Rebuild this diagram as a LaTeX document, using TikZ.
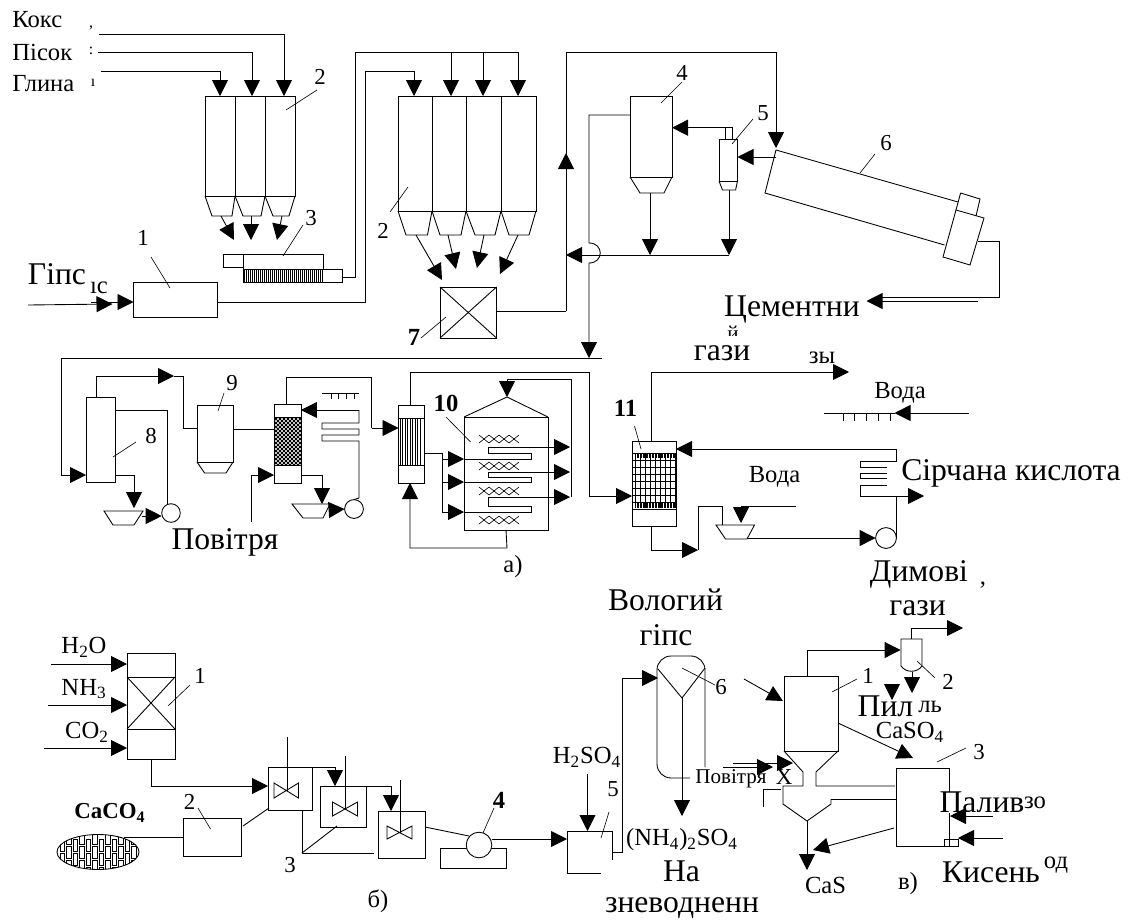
\documentclass[tikz,border=0pt]{standalone}
\usepackage{fontspec}
\setmainfont{Liberation Serif}
\usetikzlibrary{arrows.meta,fit,shapes.geometric}
\tikzset{
    unit/.style={draw, rectangle, inner sep=0pt, outer sep=0pt},
    pump/.style={draw, circle, fill=white, inner sep=0pt, outer sep=0pt},
    flow/.style={-{Triangle[length=0.32cm,width=0.32cm]}},
    lead/.style={line width=0.35pt},
    bigtext/.style={font=\fontsize{18}{20}\selectfont, inner sep=0pt},
    midtext/.style={font=\fontsize{14}{16}\selectfont, inner sep=0pt},
    tag/.style={font=\fontsize{13}{15}\selectfont, inner sep=0pt},
    boldtag/.style={font=\fontsize{14}{16}\selectfont\bfseries, inner sep=0pt}
}
\begin{document}
\begin{tikzpicture}[x=0.02cm, y=-0.02cm, line width=0.5pt]
    \useasboundingbox (0,0) rectangle (1130,920);

    % Raw materials and first bins
    \node[midtext, anchor=west] (coke) at (12,20) {Кокс};
    \node[midtext, anchor=west] (sand) at (12,52) {Пісок};
    \node[midtext, anchor=west] (clay) at (12,84) {Глина};
    \node[font=\fontsize{9}{9}\selectfont, inner sep=0pt] (cokeRest) at (91,28) {,};
    \node[font=\fontsize{9}{9}\selectfont, inner sep=0pt] (sandRest) at (91,51) {:};
    \node[font=\fontsize{9}{9}\selectfont, inner sep=0pt] (clayRest) at (93,83) {ı};
    \foreach \n/\l/\r/\a/\b in {A/205/235/212/232, B/235/265/243/261, C/265/295/273/289} {
        \node[unit, fit={(\l,96)(\r,196)}] (bin\n) {};
        \draw (\l,196) -- (\a,216) -- (\b,216) -- (\r,196);
    }
    \coordinate (cokeIn) at (99,34);
    \coordinate (sandIn) at (98,52);
    \coordinate (clayIn) at (101,71);
    \draw[flow] (cokeIn) -| (284,0 |- binC.north);
    \draw[flow] (sandIn) -| (252,0 |- binB.north);
    \draw[flow] (clayIn) -| (220,0 |- binA.north);
    \draw[flow] (221,216) -- (234,240);
    \draw[flow] (251,216) -- (251,240);
    \draw[flow] (282,216) -- (277,240);

    % Feeder 3
    \node[unit, fit={(223,254)(243,267)}] (feedLeft) {};
    \node[unit, fit={(243,254)(323,269)}] (feedTop) {};
    \node[unit, fit={(243,269)(342,282)}] (feedBot) {};
    \foreach \x in {244,246,...,322} {
        \draw[lead] (\x,270) -- (\x,282);
    }

    % Second bins
    \foreach \n/\l/\r/\a/\b in {D/398/432/406/427.5, E/432/466/440/461, F/466/501/475/495, G/501/536/509/529} {
        \node[unit, fit={(\l,96)(\r,211)}] (bin\n) {};
        \draw (\l,211) -- (\a,235) -- (\b,235) -- (\r,211);
    }
    \draw (feedBot.east |- 0,277) -| (355,52) -- (518,52);
    \draw[flow] (451,52) -- (451,0 |- binE.north);
    \draw[flow] (483,52) -- (483,0 |- binF.north);
    \draw[flow] (518,52) -- (518,0 |- binG.north);
    \draw[flow] (416,235) -- (442,280);
    \draw[flow] (448,235) -- (456,269);
    \draw[flow] (484,235) -- (477,268);
    \draw[flow] (518,235) -- (500,274);

    % Crusher 1
    \node[unit, fit={(133.5,282)(217,317)}] (crusher) {};
    \node[bigtext] (gypsum) at (57,274) {Гіпс};
    \node[midtext] (gypsumRest) at (99,288) {ıс};
    \coordinate (gypsumIn) at (28,305);
    \coordinate (gypsumTip) at (112.5,304);
    \coordinate (gypsumMid) at (91,302);
    \draw[flow] (gypsumIn) -- (gypsumTip);
    \draw[flow] (gypsumMid) -- (133.5,0 |- gypsumMid);
    \draw[flow] (crusher.east |- 0,302) -| (365,71) -| (414,0 |- binD.north);

    % Mixer 7
    \node[unit, fit={(440,287)(496.5,338)}] (mixer) {};
    \draw (mixer.north west) -- (mixer.south east);
    \draw (mixer.north east) -- (mixer.south west);
    \draw (mixer.east |- 0,311) -- (566,311);
    \draw[flow] (566,311) -- (566,153);
    \draw[flow] (566,170) |- (776,52) -- (776,148);

    % Cyclones 4 and 5
    \node[unit, fit={(630,96)(672,177)}] (cycloneA) {};
    \draw (630,177) -- (640,193) -- (664,193) -- (672,177);
    \node[unit, fit={(719,139)(737.5,181)}] (cycloneB) {};
    \draw (719,181) -- (722.5,190) -- (735.6,190) -- (737.5,181);
    \draw (725,139) |- (732.6,127.7) -- (732.6,139);
    \draw[flow] (725,127.7) -- (cycloneA.east |- 0,127.7);
    \coordinate (header) at (589,358);
    \draw[flow] (cycloneA.west |- 0,115) -| (589,243) .. controls (604,243) and (604,263) .. (589,263) -- (header);
    \draw[flow] (650,193) -- (650,255);
    \draw[flow] (729,190) -- (729,255);
    \draw[flow] (729,255) -- (566,255);

    % Kiln 6
    \coordinate (kilnHead) at (776,150);
    \draw (kilnHead) -- (958,202);
    \draw (kilnHead) -- (765,193) -- (944.5,245);
    \draw (960.6,193) -- (980,199) -- (976,216);
    \draw (960.6,193) -- (956,210);
    \draw (956,210) -- (984,218) -- (970,265) -- (943,257) -- cycle;
    \draw[flow] (776,157) -- (cycloneB.east |- 0,157);
    \coordinate (cementTip) at (866.5,301);
    \draw (978,241) -| (999,297) -- (880,297);
    \draw[flow] (977.5,301) -- (cementTip);
    \node[bigtext] (cement) at (792,310) {Цементни};
    \node[font=\fontsize{12}{12}\selectfont, inner sep=0pt] (cementRest) at (733,333) {й};

    % Long line to the gas cleaning
    \draw (header) -- (602,358);
    \draw[flow] (header) -| (61,475) -- (86,475);
    \node[bigtext, fill=white, minimum height=35*0.02cm] (gasA) at (722,353) {гази};
    \node[midtext] (gasARest) at (822,358) {зы};

    % Scrubber 8 and cyclone 9
    \node[unit, fit={(86,397)(115,482)}] (scrubber) {};
    \node[unit, fit={(197,405)(233,462)}] (cycloneC) {};
    \draw (197,462) -- (204.6,473) -- (226,473) -- (233,462);
    \draw[flow] (scrubber.north -| 96.5,0) |- (174,376);
    \draw (174,376) -| (183.5,428) -- (cycloneC.west |- 0,428);
    \node[pump, minimum size=18.6*0.02cm] (pumpA) at (171,513) {};
    \draw (scrubber.east |- 0,410) -| (167,0 |- pumpA.north);
    \draw[flow] (scrubber.east |- 0,475) -| (134,508);
    \draw (104,511) -- (143,511) -- (134,525) -- (113,525) -- cycle;
    \draw[flow] (142,516) -- (pumpA.west |- 0,516);

    % Drying tower
    \node[unit, fit={(274,404)(301,483)}] (towerA) {};
    \begin{scope}
        \clip (274,417) rectangle (301,465);
        \foreach \d in {230,234,...,350} {
            \draw[line width=0.5pt] (\d,417) -- (\d+48,465);
            \draw[line width=0.5pt] (\d,465) -- (\d+48,417);
        }
    \end{scope}
    \draw (274,417) rectangle (301,465);
    \draw (cycloneC.east |- 0,429) -- (towerA.west |- 0,429);
    \coordinate (airIn) at (251,522);
    \draw[flow] (airIn) |- (towerA.west |- 0,475);
    \draw[flow] (towerA.east |- 0,475) -| (322,504);
    \draw (292,504) -- (330,504) -- (323,518) -- (303,518) -- cycle;
    \node[pump, minimum size=18.8*0.02cm] (pumpB) at (354,509) {};
    \draw[flow] (329,510) -- (pumpB.west);
    \draw (pumpB.north) -- (359,498) -- (359,441) -- (322,441) -- (322,435) -- (359,435) -- (359,429) -- (322,429) -- (322,423) -- (359,423) -- (359,410);
    \draw[flow] (359,410) -- (towerA.east |- 0,410);
    \draw (322,393) -- (359,393);
    \foreach \x in {331,338.5,346,354} {
        \draw (\x,393) -- (\x,399);
    }
    \node[bigtext] (airA) at (225,542) {Повітря};

    % Heat exchanger and converter 10
    \node[unit, fit={(398.5,405)(424,483)}] (exchanger) {};
    \foreach \x in {400,402.5,...,422} {
        \draw[lead] (\x,418) -- (\x,465);
    }
    \draw (398.5,418) -- (424,418);
    \draw (398.5,465) -- (424,465);
    \draw (towerA.north -| 286,0) |- (371.5,377) -- (371.5,428);
    \draw[flow] (371.5,428) -- (exchanger.west |- 0,428);
    \node[unit, fit={(464,417)(548,530)}] (converter) {};
    \draw (converter.north west) -- (507,397) -- (converter.north east);
    \coordinate (roof) at (507,397);
    \draw (exchanger.east |- 0,453) -| (442,512);
    \foreach \y in {459,482,512} {
        \draw[flow] (442,\y) -- (converter.west |- 0,\y);
    }
    \draw[flow] (571.6,497) |- (507,379) -- (roof);
    \draw[flow] (464,459) -- (531,459) -- (531,453) -- (488,453) -- (488,447) -- (570,447);
    \draw[flow] (464,482) -- (531,482) -- (531,477) -- (488,477) -- (488,472) -- (570,472);
    \draw[flow] (464,512) -- (531,512) -- (531,506) -- (488,506) -- (488,497) -- (570,497);
    \foreach \y in {439,466,491,520} {
        \foreach \x in {479,489,499,509} {
            \draw[lead] (\x,\y-4) -- (\x+10,\y+4);
            \draw[lead] (\x,\y+4) -- (\x+10,\y-4);
        }
    }
    \draw[flow] (converter.south) -- (507,548) -| (exchanger.south -| 410,0);
    \node[midtext] (partA) at (513,567) {а)};

    % Absorber 11
    \node[unit, fit={(632,441)(676,526)}] (absorber) {};
    \foreach \y in {453,460,...,509} {
        \draw[lead] (632,\y) -- (676,\y);
    }
    \foreach \x in {635,640,...,675} {
        \draw[lead] (\x,453) -- (\x,508);
    }
    \foreach \x in {637,638.5,...,675} {
        \draw[lead] (\x,453) -- (\x,458);
        \draw[lead] (\x,502) -- (\x,508);
    }
    \draw[flow] (410,405) -- (410,372) -| (589,496) -- (absorber.west |- 0,496);
    \draw[flow] (651,441) |- (849,372);
    \draw (896,449) -- (896,461) -- (860,461) -- (860,467) -- (887,467);
    \draw (887,473) -- (860,473) -- (860,478) -- (887,478);
    \draw (887,485) -- (860,485) -- (860,496) -- (896,496);
    \draw[flow] (896,449) -- (absorber.east |- 0,449);
    \node[pump, minimum size=20.8*0.02cm] (pumpC) at (886,538) {};
    \draw (896,496) -- (896,538);
    \draw[flow] (896,496) -- (924,496);
    \draw[flow] (absorber.south -| 651,0) |- (698,550);
    \draw (698,550) |- (722,506) -- (722,525);
    \draw (716,525) -- (754.5,525) -- (747,539) -- (725.5,539) -- cycle;
    \coordinate (waterB) at (796,506);
    \draw[flow] (waterB) -| (741,523);
    \draw[flow] (747,538) -- (pumpC.west);
    \coordinate (waterA) at (969,413);
    \draw (824,413) -- (895,413);
    \draw[flow] (waterA) -- (894.5,413);
    \foreach \x in {843,854.5,866,878,890} {
        \draw (\x,413) -- (\x,421);
    }
    \node[midtext] (waterTextA) at (900,393) {Вода};
    \node[midtext] (waterTextB) at (774.5,477) {Вода};
    \node[bigtext] (acid) at (1011,473) {Сірчана кислота};

    % Numbers of scheme a)
    \foreach \n/\x/\y/\t in {a2/320/77/2, a3/311/218/3, a1/143/238/1, b2/383/231/2, a4/682/73/4, a5/763/113/5, a6/886/143/6, a8/151/436/8, a9/232/383/9} {
        \node[tag] (num\n) at (\x,\y) {\t};
    }
    \node[boldtag] (numa7) at (414,337) {7};
    \node[boldtag] (numa10) at (446,403) {10};
    \node[boldtag] (numa11) at (625.5,408) {11};
    \foreach \ax/\ay/\bx/\by in {286/110/317/90, 283/256/303/225, 151/257/170/288, 390/212/408/187, 421/338/446/317, 661/103/682/82, 732/144/753/119, 860/173/875/154, 113/457/136/442, 218/411/224/393, 446/417/470.6/442, 634.5/426/641/449} {
        \draw[lead] (\ax,\ay) -- (\bx,\by);
    }

    % Scheme b) carbonation tower
    \node[unit, fit={(127,653)(175,759)}] (carbon) {};
    \node[unit, fit={(127,677)(175,729)}] (carbonMid) {};
    \draw (carbonMid.north west) -- (carbonMid.south east);
    \draw (carbonMid.north east) -- (carbonMid.south west);
    \node[midtext] (water) at (84,647) {H\textsubscript{2}O};
    \node[midtext] (ammonia) at (84,689) {NH\textsubscript{3}};
    \node[midtext] (carbonGas) at (87,732) {CO\textsubscript{2}};
    \coordinate (waterIn) at (51,664);
    \coordinate (ammoniaIn) at (48,705);
    \coordinate (carbonIn) at (44,748);
    \draw[flow] (waterIn) -- (carbon.west |- waterIn);
    \draw[flow] (ammoniaIn) -- (carbon.west |- ammoniaIn);
    \draw[flow] (carbonIn) -- (carbon.west |- carbonIn);

    % Chalk and reactors
    \node[inner sep=0pt, font=\fontsize{13}{15}\selectfont\bfseries] (chalkText) at (110,813) {CaCO\textsubscript{4}};
    \node[draw, ellipse, inner sep=0pt, minimum width=82*0.02cm, minimum height=35*0.02cm] (chalk) at (98,852) {};
    \begin{scope}
        \clip (98,852) ellipse [x radius=41, y radius=17.5];
        \foreach \x in {60,66.5,...,136} {
            \pgfmathsetmacro\off{mod(\x*3,13)}
            \foreach \y in {0,14,28,42} {
                \draw[lead] (\x,828+\off+\y) rectangle (\x+4.5,840+\off+\y);
            }
        }
    \end{scope}
    \node[unit, fit={(183,818)(241.5,856)}] (slurry) {};
    \draw (124,837) -- (slurry.west |- 0,837);
    \node[unit, fit={(268,767)(312,810)}] (reactorA) {};
    \node[unit, fit={(320,786)(366,827)}] (reactorB) {};
    \node[unit, fit={(378,811)(425,858)}] (reactorC) {};
    \foreach \s/\t/\e/\l/\r/\u/\d in {287/737/791/274/298.5/783/798, 345.6/756/809/332.5/357.5/802/816, 400/780/832/387/412/826/839} {
        \draw (\s,\t) -- (\s,\e);
        \draw (\l,\u) -- (\r,\d) -- (\r,\u) -- (\l,\d) -- cycle;
    }
    \draw[flow] (carbon.south) |- (reactorA.west |- 0,786);
    \draw[flow] (reactorA.north east) -| (335,0 |- reactorB.north);
    \draw[flow] (reactorB.north east) -| (391,0 |- reactorC.north);
    \draw (243,826) -- (269,808);
    \draw (302,810) -- (302,853) -- (374,853);
    \draw (302,853) -- (337,826);
    \node[unit, fit={(440.5,848)(506,868)}] (pumpBase) {};
    \node[pump, minimum size=25.6*0.02cm] (pumpD) at (479,845) {};
    \draw (reactorC.east |- 0,827) -- (469,836);
    \node[unit, fit={(567,831)(612,873)}] (filter) {};
    \draw[flow] (pumpD.east |- 0,839) -- (filter.west |- 0,839);
    \node[midtext] (acidB) at (587,757) {H\textsubscript{2}SO\textsubscript{4}};
    \coordinate (acidIn) at (587.5,774);
    \draw[flow] (acidIn) -- (acidIn |- filter.north);
    \node[midtext] (partB) at (378,901) {б)};

    % Settler 6
    \draw[rounded corners=8pt] (705,767) |- (657,656) |- (690,778);
    \coordinate (settleTop) at (682,698);
    \draw (658,669) -- (settleTop) -- (705,668);
    \draw[flow] (settleTop) -- (682,816);
    \draw[flow] (filter.east |- 0,852) -| (622,678) -- (658,678);
    \fill[white] (601,860) rectangle (613,880);
    \node[bigtext] (wetA) at (665.5,600) {Вологий};
    \node[bigtext] (wetB) at (666,635) {гіпс};
    \node[midtext] (sulfate) at (682,840) {(NH\textsubscript{4})\textsubscript{2}SO\textsubscript{4}};
    \node[bigtext] (toA) at (681.5,871) {На};
    \node[bigtext] (toB) at (682,908) {зневодненн};
    \node[font=\fontsize{12}{14}\selectfont, fill=white, inner sep=1pt] (airB) at (731,779) {Повітря};

    % Scheme c) furnace
    \node[unit, fit={(784,676)(838,751)}] (furnace) {};
    \draw (furnace.south west) -- (803,772) -- (803,786) -- (783,786) -- (783,804) -- (807,821) -- (831,804) -- (831,799);
    \draw (furnace.south east) -- (816,772) -- (816,786) -- (895,786);
    \draw (831,799) -- (897,799);
    \draw (763,807) -- (763,789) -- (781,789);
    \node[font=\fontsize{13}{13}\selectfont, inner sep=0pt] (cross) at (784,777) {X};
    \draw[flow] (733,763) -- (793,763);
    \draw[flow] (723,767) -- (773,767);
    \coordinate (feedIn) at (744,679);
    \draw[flow] (feedIn) -- (783,701);
    \coordinate (casOut) at (807,821);
    \draw[flow] (casOut) -- (807,870);

    % Cyclone 2 of scheme c)
    \node[inner sep=0pt, fit={(901,639)(922,672)}] (cycloneD) {};
    \draw (901,666) |- (922,639) -- (922,666) .. controls (917,673) and (906,673) .. (901,666);
    \draw[flow] (furnace.north -| 807,0) |- (cycloneD.west |- 0,650);
    \draw[flow] (911,639) |- (963,628);
    \draw[flow] (912,672) -- (912,693);
    \coordinate (dustTop) at (892,685);
    \draw[flow] (dustTop) -- (892,700);

    % Burner 3
    \node[unit, fit={(896,768)(949,846)}] (burner) {};
    \node[unit, fit={(944,839)(958,846)}] (nozzle) {};
    \draw[flow] (furnace.east |- 0,723) -- (913,758);
    \draw[flow] (894,828) -- (813,850);
    \node[bigtext, fill=white] (fuel) at (982,802) {Палив};
    \fill[white] (940,812) rectangle (1024,825);
    \draw (949,813) -- (949,839);
    \coordinate (fuelIn) at (993,816);
    \coordinate (oxygenIn) at (1003,838);
    \draw[flow] (fuelIn) -- (950,816);
    \draw[flow] (oxygenIn) -- (nozzle.east |- oxygenIn);
    \node[midtext] (fuelRest) at (1035,803) {зо};
    \node[bigtext] (oxygen) at (991,872) {Кисень};
    \node[midtext] (oxygenRest) at (1056,865) {од};
    \node[midtext] (cas) at (825.5,885) {CaS};
    \node[midtext] (partC) at (908,884) {в)};
    \node[midtext] (caso) at (910,732) {CaSO\textsubscript{4}};
    \node[bigtext] (dust) at (885.5,706) {Пил};
    \node[midtext] (dustRest) at (930,707) {ль};
    \node[bigtext] (fumeA) at (919,574) {Димові};
    \node[midtext] (fumeRest) at (983,585) {,};
    \node[bigtext] (fumeB) at (917.5,608) {гази};

    % Numbers of schemes b) and c)
    \foreach \n/\x/\y/\t in {b1/200/676/1, b21/189.5/802/2, b3/290/865/3, b5/613/789/5, b6/721/687/6, c1/868/676/1, c2/948/682/2, c3/979/752/3} {
        \node[tag] (num\n) at (\x,\y) {\t};
    }
    \node[boldtag] (numb4) at (499,800) {4};
    \foreach \ax/\ay/\bx/\by in {168/706/190/685, 198/808/210.5/829, 483/833/494/808, 601/838/609/812, 682/668/715/685, 832/692/857/679, 917/661/935/678, 937/762/966/748} {
        \draw[lead] (\ax,\ay) -- (\bx,\by);
    }
\end{tikzpicture}
\end{document}
